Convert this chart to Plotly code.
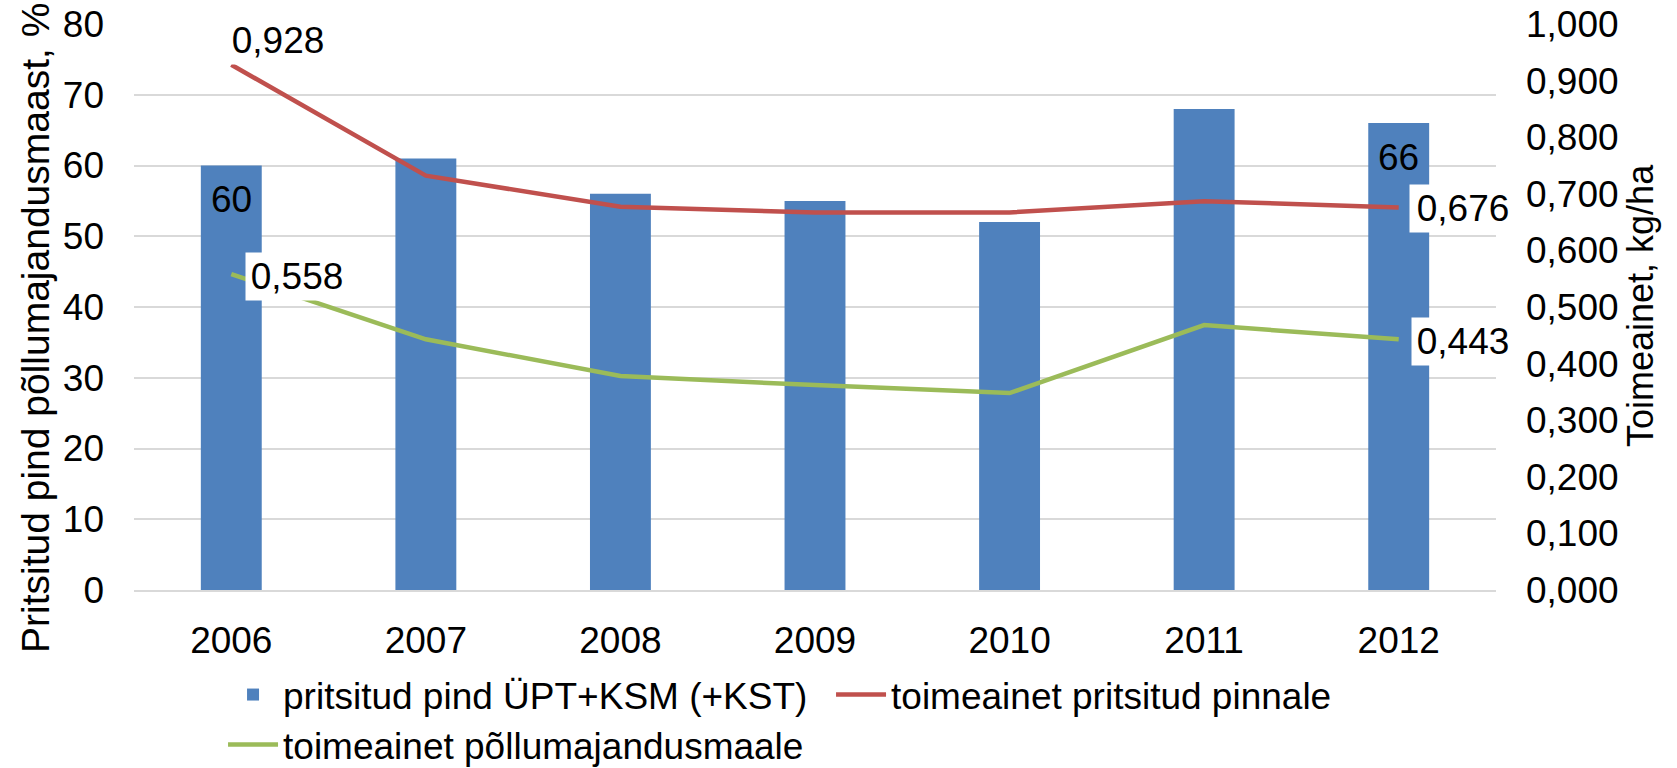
import plotly.graph_objects as go

years = ["2006", "2007", "2008", "2009", "2010", "2011", "2012"]
sprayed_area_pct = [60, 61, 56, 55, 52, 68, 66]
ai_on_sprayed = [0.928, 0.732, 0.677, 0.667, 0.667, 0.687, 0.676]
ai_on_agri = [0.558, 0.443, 0.378, 0.362, 0.348, 0.468, 0.443]

bar_label_idx = [0, 6]
red_label_idx = [0, 6]
green_label_idx = [0, 6]

name_bar = "pritsitud pind ÜPT+KSM (+KST)"
name_red = "toimeainet pritsitud pinnale"
name_green = "toimeainet põllumajandusmaale"
left_title = "Pritsitud pind põllumajandusmaast, %"
right_title = "Toimeainet, kg/ha"

BLUE = "#4f81bd"
RED = "#c0504d"
GREEN = "#9bbb59"
GRID = "#d9d9d9"
FONT = "Liberation Sans, Arial, sans-serif"
FS = 37

fig = go.Figure()
fig.add_trace(go.Bar(x=years, y=sprayed_area_pct, name=name_bar,
                     marker=dict(color=BLUE, line=dict(width=0)),
                     legend="legend"))
fig.add_trace(go.Scatter(x=years, y=ai_on_sprayed, name=name_red, mode="lines",
                         line=dict(color=RED, width=4.5), yaxis="y2",
                         legend="legend"))
fig.add_trace(go.Scatter(x=years, y=ai_on_agri, name=name_green, mode="lines",
                         line=dict(color=GREEN, width=4.5), yaxis="y2",
                         legend="legend2"))

fmt = lambda v: f"{v:.3f}".replace(".", ",")
ann = []
for i in bar_label_idx:
    ann.append(dict(x=i, y=sprayed_area_pct[i], xref="x", yref="y",
                    text=str(sprayed_area_pct[i]), showarrow=False,
                    xanchor="center", yanchor="middle", yshift=-34,
                    font=dict(size=FS, color="black", family=FONT)))
red_shift = {0: (47, 24), 6: (64, -1.5)}
for i in red_label_idx:
    xs, ys = red_shift[i]
    ann.append(dict(x=i, y=ai_on_sprayed[i], xref="x", yref="y2",
                    text=fmt(ai_on_sprayed[i]), showarrow=False,
                    xanchor="center", yanchor="middle", xshift=xs, yshift=ys,
                    bgcolor="white", width=100, borderpad=3,
                    font=dict(size=FS, color="black", family=FONT)))
green_shift = {0: (66, -2.5), 6: (64, -2)}
for i in green_label_idx:
    xs, ys = green_shift[i]
    ann.append(dict(x=i, y=ai_on_agri[i], xref="x", yref="y2",
                    text=fmt(ai_on_agri[i]), showarrow=False,
                    xanchor="center", yanchor="middle", xshift=xs, yshift=ys,
                    bgcolor="white", width=96, borderpad=3,
                    font=dict(size=FS, color="black", family=FONT)))
ann.append(dict(x=(35 - 134) / 1362, y=(590 - 328) / 566, xref="paper", yref="paper",
                text=left_title, textangle=-90, showarrow=False,
                xanchor="center", yanchor="middle",
                font=dict(size=39, color="black", family=FONT)))
ann.append(dict(x=(1640 - 134) / 1362, y=(590 - 306) / 566, xref="paper", yref="paper",
                text=right_title, textangle=-90, showarrow=False,
                xanchor="center", yanchor="middle",
                font=dict(size=36, color="black", family=FONT)))

fig.update_layout(
    width=1677, height=768,
    margin=dict(l=134, r=181, t=24, b=178, autoexpand=False),
    paper_bgcolor="white", plot_bgcolor="white",
    font=dict(family=FONT, size=FS, color="black"),
    separators=",.",
    bargap=0.687,
    showlegend=True,
    annotations=ann,
    xaxis=dict(type="category", range=[-0.5, 6.5], autorange=False,
               showgrid=False, showline=True, linecolor=GRID,
               linewidth=1.5, ticks="", ticklabelstandoff=17,
               tickfont=dict(size=FS), automargin=False),
    yaxis=dict(range=[0, 80], autorange=False, dtick=10, showgrid=True,
               gridcolor=GRID, gridwidth=1.5,
               zeroline=False, ticks="", ticklabelstandoff=29,
               tickfont=dict(size=FS), automargin=False),
    yaxis2=dict(range=[0, 1], autorange=False, dtick=0.1, tickformat=".3f",
                overlaying="y", side="right", showgrid=False, zeroline=False,
                ticks="", ticklabelstandoff=29, tickfont=dict(size=FS),
                automargin=False),
    legend=dict(orientation="h", xref="container", yref="container",
                x=0.133, y=1 - 695 / 768, xanchor="left", yanchor="middle",
                font=dict(size=FS), entrywidth=543, entrywidthmode="pixels",
                itemwidth=50, bgcolor="rgba(0,0,0,0)"),
    legend2=dict(orientation="h", xref="container", yref="container",
                 x=0.133, y=1 - 745 / 768, xanchor="left", yanchor="middle",
                 font=dict(size=FS), itemwidth=50, bgcolor="rgba(0,0,0,0)"),
)

fig.write_html("out.html", config={"displayModeBar": False},
               post_script="document.body.style.margin='0';"
                           "document.body.style.overflow='hidden';")
